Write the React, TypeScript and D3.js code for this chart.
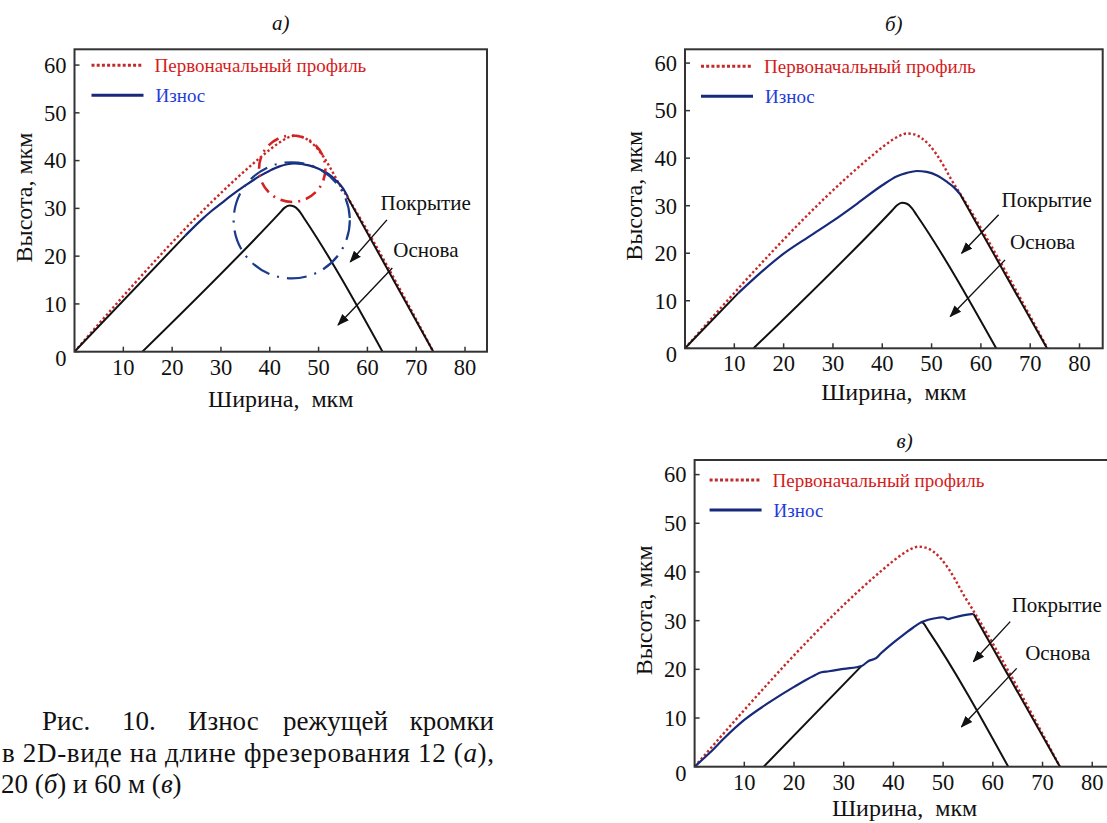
import React from 'react';
import * as d3 from 'd3';

type Pt = [number, number];

const xTicks = [10, 20, 30, 40, 50, 60, 70, 80];
const yTicks = [0, 10, 20, 30, 40, 50, 60];

const legendLabels = ['Первоначальный профиль', 'Износ'];
const xAxisTitle = 'Ширина,\u00a0\u00a0мкм';
const yAxisTitle = 'Высота, мкм';
const coatingLabel = 'Покрытие';
const baseLabel = 'Основа';

// Initial (unworn) profile, shared by all panels
const initialProfile: Pt[] = [
  [0, 0], [38, 40.6], [40, 42.3], [42, 43.8], [43.5, 44.7], [45, 45.2], [46.5, 45.0],
  [48, 44.2], [49.5, 42.8], [51, 40.8], [52.5, 38.3], [54, 35.5], [56, 32.2], [73.5, 0],
];

// Substrate (base) profile
const baseProfile: Pt[] = [
  [13.9, 0], [42, 29], [43, 30.1], [44, 30.6], [45, 30.4], [46, 29.5], [47, 28], [63.1, 0],
];

// Panel a) — 12 m
const coatingLeftA: Pt[] = [[0, 0], [22.7, 24.3]];
const coatingRightA: Pt[] = [[56, 32.2], [73.5, 0]];
const wearA: Pt[] = [
  [22.7, 24.3], [26, 27.6], [28, 29.4], [30, 31.0], [32, 32.6], [35, 34.8], [38, 36.8],
  [40, 37.9], [42, 38.8], [45, 39.4], [48, 39.0], [50, 38.3], [52, 37.2], [53.5, 35.9],
  [55, 34.2], [56, 32.4],
];
const redCircleA = { cx: 44.6, cy: 38.3, r: 6.8 };
const blueCircleA = { cx: 44.5, cy: 27.5, r: 11.9 };

// Panel б) — 20 m
const coatingLeftB: Pt[] = [[0, 0], [10.8, 11.6]];
const coatingRightB: Pt[] = [[55.8, 32.4], [73.4, 0]];
const wearB: Pt[] = [
  [10.8, 11.6], [15, 15.6], [20, 19.9], [25, 23.4], [30, 26.8], [35, 30.5], [40, 34.3],
  [43, 36.2], [45, 36.9], [47, 37.3], [49, 37.1], [51, 36.4], [53, 35.1], [54.5, 33.9],
  [55.8, 32.4],
];

// Panel в) — 60 m
const coatingRightC: Pt[] = [[56.1, 31.4], [73.5, 0]];
const wearC: Pt[] = [
  [0, 0], [3, 2.8], [6, 5.9], [10, 9.6], [15, 13.2], [20, 16.4], [24, 18.7], [25.5, 19.4],
  [27, 19.6], [30, 20.1], [33.6, 20.7], [35, 21.7], [36.5, 22.3], [37.5, 23.3], [40, 25.5],
  [42, 27.1], [44, 28.6], [45.7, 29.7], [47, 30.2], [49, 30.6], [50, 30.7], [51, 30.3],
  [52, 30.6], [54, 31.1], [56.1, 31.4],
];
const baseLeftC: Pt[] = [[13.9, 0], [33.6, 20.7]];
const baseRightC: Pt[] = [[45.7, 29.7], [46, 29.5], [47, 28], [63.1, 0]];

// Annotations: [textX, textY, arrowX1, arrowY1, arrowX2, arrowY2] in data units
const annotA = {
  coat: [62.7, 29.6, 64.0, 27.6, 56.5, 18.8],
  base: [65.3, 19.8, 65.1, 17.5, 54.0, 5.6],
};
const annotB = {
  coat: [64.2, 29.7, 63.6, 28.1, 56.1, 20.0],
  base: [65.9, 20.9, 64.9, 18.6, 53.8, 6.7],
};
const annotC = {
  coat: [63.8, 31.8, 63.5, 29.8, 56.1, 21.6],
  base: [66.5, 21.9, 64.8, 20.2, 53.7, 8.2],
};

const RED = '#c42a2a';
const RED_TEXT = '#d41c1c';
const BLUE = '#17297a';
const BLUE_TEXT = '#1f3cd8';
const FONT = 'Liberation Serif';

interface PanelCfg {
  id: string;
  title: string;
  titleDy: number;
  left: number; right: number; top: number; bottom: number;
  xMax: number; yMax: number;
  coatingLeft: Pt[] | null;
  coatingRight: Pt[];
  wear: Pt[];
  baseParts: Pt[][];
  annot: { coat: number[]; base: number[] };
  circles: boolean;
  legendDx: number; legendDy: number;
  xTitleDy: number;
}

const panels: PanelCfg[] = [
  {
    id: 'a', title: 'а)', titleDy: -19,
    left: 74.5, right: 487, top: 49.3, bottom: 351.7, xMax: 84.5, yMax: 63.3,
    coatingLeft: coatingLeftA, coatingRight: coatingRightA, wear: wearA,
    baseParts: [baseProfile], annot: annotA, circles: true, legendDx: 17, legendDy: 16, xTitleDy: 55,
  },
  {
    id: 'b', title: 'б)', titleDy: -18,
    left: 685, right: 1102.7, top: 49.3, bottom: 348.3, xMax: 84.7, yMax: 62.9,
    coatingLeft: coatingLeftB, coatingRight: coatingRightB, wear: wearB,
    baseParts: [baseProfile], annot: annotB, circles: false, legendDx: 16, legendDy: 17, xTitleDy: 52,
  },
  {
    id: 'c', title: 'в)', titleDy: -12,
    left: 694.6, right: 1114.6, top: 460, bottom: 766.7, xMax: 84.5, yMax: 63,
    coatingLeft: null, coatingRight: coatingRightC, wear: wearC,
    baseParts: [baseLeftC, baseRightC], annot: annotC, circles: false, legendDx: 15, legendDy: 20, xTitleDy: 49,
  },
];

function Panel({ cfg }: { cfg: PanelCfg }) {
  const x = d3.scaleLinear().domain([0, cfg.xMax]).range([cfg.left, cfg.right]);
  const y = d3.scaleLinear().domain([0, cfg.yMax]).range([cfg.bottom, cfg.top]);
  const line = d3.line<Pt>().x(d => x(d[0])).y(d => y(d[1])).curve(d3.curveMonotoneX);
  const lin = d3.line<Pt>().x(d => x(d[0])).y(d => y(d[1]));
  const clipId = 'clip-' + cfg.id;
  const cx = (cfg.left + cfg.right) / 2;
  const cy = (cfg.top + cfg.bottom) / 2;
  const lx = cfg.left + cfg.legendDx;
  const ly = cfg.top + cfg.legendDy;

  const renderAnnot = (a: number[], label: string) => (
    <g>
      <text x={x(a[0])} y={y(a[1])} fontFamily={FONT} fontSize={21} fill="#111">{label}</text>
      <line x1={x(a[2])} y1={y(a[3])} x2={x(a[4])} y2={y(a[5])} stroke="#111" strokeWidth={1.4}
        markerEnd="url(#arrowhead)" />
    </g>
  );

  return (
    <g>
      <defs>
        <clipPath id={clipId}>
          <rect x={cfg.left} y={cfg.top} width={cfg.right - cfg.left} height={cfg.bottom - cfg.top} />
        </clipPath>
      </defs>
      <text x={cx} y={cfg.top + cfg.titleDy} textAnchor="middle" fontFamily={FONT} fontStyle="italic"
        fontSize={21} fill="#111">{cfg.title}</text>
      <rect x={cfg.left} y={cfg.top} width={cfg.right - cfg.left} height={cfg.bottom - cfg.top}
        fill="#fff" stroke="none" />
      {yTicks.map(t => (
        <g key={'y' + t}>
          <line x1={cfg.left} x2={cfg.left + 5} y1={y(t)} y2={y(t)} stroke="#333" strokeWidth={1.5} />
          <text x={cfg.left - 8} y={y(t) + (t === 0 ? 6 : 0)} dy="0.35em" textAnchor="end"
            fontFamily={FONT} fontSize={22.5} fill="#111">{t}</text>
        </g>
      ))}
      {xTicks.map(t => (
        <g key={'x' + t}>
          <line x1={x(t)} x2={x(t)} y1={cfg.bottom} y2={cfg.bottom - 5} stroke="#333" strokeWidth={1.5} />
          <text x={x(t)} y={cfg.bottom + 23} textAnchor="middle"
            fontFamily={FONT} fontSize={22.5} fill="#111">{t}</text>
        </g>
      ))}
      <text x={cx} y={cfg.bottom + cfg.xTitleDy} textAnchor="middle" fontSize={24} fontFamily={FONT}
        fill="#111">{xAxisTitle}</text>
      <text transform={`translate(${cfg.left - 51},${cy - 3}) rotate(-90)`} textAnchor="middle"
        dy="0.35em" fontFamily={FONT} fontSize={24} fill="#111">{yAxisTitle}</text>

      <line x1={lx} x2={lx + 50} y1={ly} y2={ly} stroke={RED} strokeWidth={3} strokeDasharray="3 2.2" />
      <text x={lx + 63} y={ly + 6.5} fontFamily={FONT} fontSize={19} fill={RED_TEXT}>{legendLabels[0]}</text>
      <line x1={lx} x2={lx + 52} y1={ly + 30} y2={ly + 30} stroke={BLUE} strokeWidth={3} />
      <text x={lx + 64} y={ly + 36.5} fontFamily={FONT} fontSize={19} fill={BLUE_TEXT}>{legendLabels[1]}</text>

      <g clipPath={`url(#${clipId})`}>
        <path d={line(initialProfile) || ''} fill="none" stroke={RED} strokeWidth={2.4}
          strokeDasharray="2.4 2.4" />
        {cfg.coatingLeft && <path d={lin(cfg.coatingLeft) || ''} fill="none" stroke="#111" strokeWidth={2} />}
        <path d={lin(cfg.coatingRight) || ''} fill="none" stroke="#1a0d0d" strokeWidth={2} />
        {cfg.baseParts.map((p, i) => (
          <path key={i} d={line(p) || ''} fill="none" stroke="#111" strokeWidth={2} />
        ))}
        <path d={line(cfg.wear) || ''} fill="none" stroke={BLUE} strokeWidth={2.2} />
        {cfg.circles && (
          <g>
            <circle cx={x(redCircleA.cx)} cy={y(redCircleA.cy)} r={x(redCircleA.r) - x(0)} fill="none"
              stroke="#d42222" strokeWidth={2.6} strokeDasharray="12 6 2 6" />
            <circle cx={x(blueCircleA.cx)} cy={y(blueCircleA.cy)} r={x(blueCircleA.r) - x(0)} fill="none"
              stroke="#1a3a8c" strokeWidth={2.2} strokeDasharray="20 8 2 8" />
          </g>
        )}
        {renderAnnot(cfg.annot.coat, coatingLabel)}
        {renderAnnot(cfg.annot.base, baseLabel)}
      </g>
      <rect x={cfg.left} y={cfg.top} width={cfg.right - cfg.left} height={cfg.bottom - cfg.top}
        fill="none" stroke="#333" strokeWidth={2} />
    </g>
  );
}

const captionLine1 = ['Рис.', '10.', 'Износ', 'режущей', 'кромки'];
const captionLine1X = [42, 122, 188, 283, 494];

export default function App() {
  return (
    <svg width={1107} height={823} style={{ position: 'absolute', left: 0, top: 0, background: '#fff' }}>
      <defs>
        <marker id="arrowhead" viewBox="0 0 10 10" refX={9} refY={5} markerWidth={12} markerHeight={12}
          markerUnits="userSpaceOnUse" orient="auto">
          <path d="M0,1.2 L10,5 L0,8.8 Z" fill="#111" />
        </marker>
      </defs>
      <rect width={1107} height={823} fill="#fff" />
      {panels.map(p => <Panel key={p.id} cfg={p} />)}
      {captionLine1.map((w, i) => (
        <text key={i} x={captionLine1X[i]} y={730} textAnchor={i === captionLine1.length - 1 ? 'end' : 'start'}
          fontFamily={FONT} fontSize={27} fill="#111">{w}</text>
      ))}
      <text x={2} y={762} fontFamily={FONT} fontSize={27} fill="#111" textLength={492} lengthAdjust="spacing">
        в 2D-виде на длине фрезерования 12 (<tspan fontStyle="italic">а</tspan>),
      </text>
      <text x={1} y={793} fontFamily={FONT} fontSize={27} fill="#111">
        20 (<tspan fontStyle="italic">б</tspan>) и 60 м (<tspan fontStyle="italic">в</tspan>)
      </text>
    </svg>
  );
}
